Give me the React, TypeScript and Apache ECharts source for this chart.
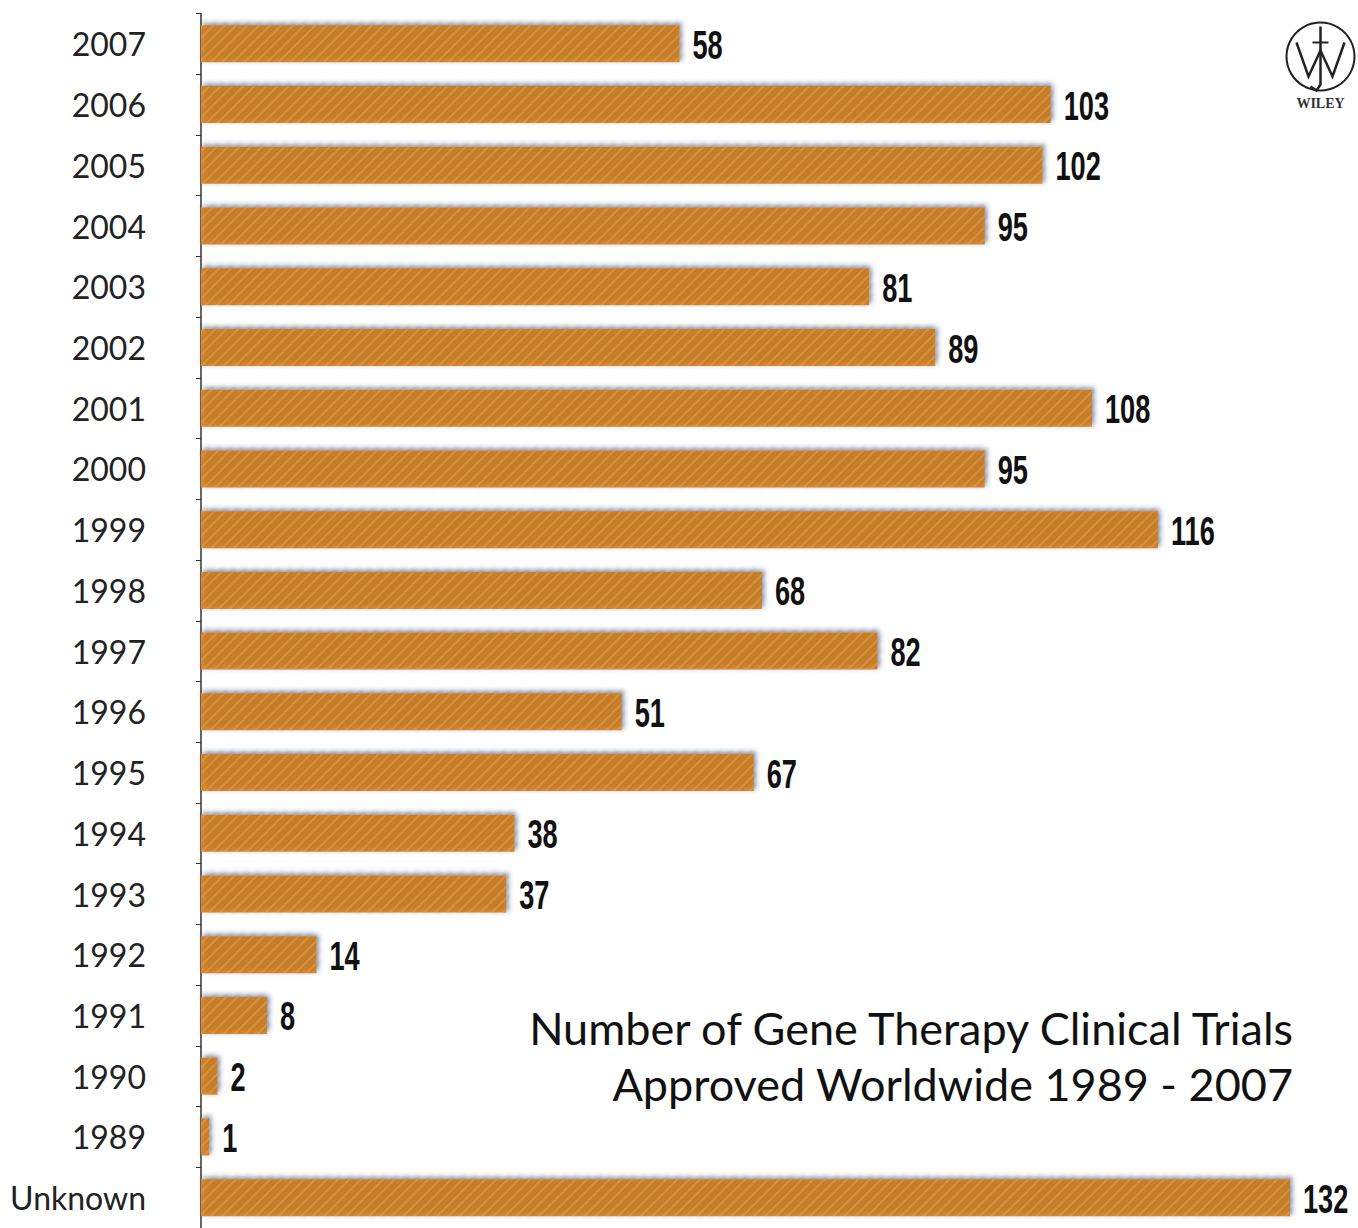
import React, { useEffect, useRef } from "react";
import * as echarts from "echarts";

const categories = ["2007", "2006", "2005", "2004", "2003", "2002", "2001", "2000", "1999", "1998", "1997", "1996", "1995", "1994", "1993", "1992", "1991", "1990", "1989", "Unknown"];
const trials = [58, 103, 102, 95, 81, 89, 108, 95, 116, 68, 82, 51, 67, 38, 37, 14, 8, 2, 1, 132];
const titleLines = ["Number of Gene Therapy Clinical Trials", "Approved Worldwide 1989 - 2007"];

export default function App() {
  const ref = useRef<HTMLDivElement>(null);
  useEffect(() => {
    document.body.style.margin = "0";
    const chart = echarts.init(ref.current!, null, { renderer: "svg" });
    chart.setOption({
      animation: false,
      backgroundColor: "#ffffff",
      grid: { left: 201, right: 2, top: 13.5, bottom: -9.5, containLabel: false },
      xAxis: { type: "value", min: 0, max: 140, show: false },
      yAxis: {
        type: "category",
        data: categories,
        inverse: true,
        axisLine: { show: true, lineStyle: { color: "#333", width: 1.5 } },
        axisTick: { show: true, length: 5, lineStyle: { color: "#333" } },
        axisLabel: { color: "#222", fontFamily: "Lato", fontSize: 32, margin: 55 },
        splitLine: { show: false },
      },
      series: [
        {
          type: "bar",
          data: trials,
          barWidth: 37,
          itemStyle: {
            color: "#d98a2d",
            shadowColor: "rgba(40,60,110,0.5)",
            shadowBlur: 5,
            shadowOffsetX: 2,
            shadowOffsetY: -2,
            decal: {
              symbol: "rect",
              dashArrayX: [1, 0],
              dashArrayY: [2, 6],
              rotation: -Math.PI / 4,
              color: "rgba(230,160,75,0.45)",
            },
          },
        },
        {
          type: "custom",
          clip: false,
          z: 5,
          data: trials.map((v, i) => [v, i]),
          encode: { x: 0, y: 1 },
          renderItem: (params: any, api: any) => {
            const v = api.value(0);
            const p = api.coord([v, api.value(1)]);
            return {
              type: "text",
              x: p[0] + 13,
              y: p[1] + 1,
              scaleX: 0.68,
              style: {
                text: String(v),
                fontFamily: "'Liberation Sans', Arial",
                fontWeight: "bold",
                fontSize: 40,
                fill: "#111",
                align: "left",
                verticalAlign: "middle",
              },
            };
          },
        },
      ],
      graphic: [
        {
          type: "text",
          x: 1293,
          y: 1005,
          style: { text: titleLines[0], fontFamily: "Lato", fontSize: 45, fill: "#111", align: "right" },
        },
        {
          type: "text",
          x: 1293,
          y: 1061,
          style: { text: titleLines[1], fontFamily: "Lato", fontSize: 45, fill: "#111", align: "right" },
        },
        {
          type: "group",
          left: 1284,
          top: 20,
          children: [
            { type: "circle", shape: { cx: 36, cy: 36, r: 34 }, style: { fill: "none", stroke: "#222", lineWidth: 2 } },
            { type: "polyline", shape: { points: [[12, 22], [24, 56], [36, 30], [48, 56], [60, 22]] }, style: { fill: "none", stroke: "#222", lineWidth: 2.5 } },
            { type: "polyline", shape: { points: [[36, 6], [36, 64], [32, 70], [26, 66]] }, style: { fill: "none", stroke: "#222", lineWidth: 2.5 } },
            { type: "line", shape: { x1: 28, y1: 22, x2: 44, y2: 22 }, style: { stroke: "#222", lineWidth: 2 } },
            { type: "text", x: 36, y: 76, style: { text: "WILEY", fontFamily: "Liberation Serif", fontWeight: "bold", fontSize: 14, fill: "#333", align: "center" } },
          ],
        },
      ],
    });
    return () => chart.dispose();
  }, []);
  return <div ref={ref} style={{ width: 1358, height: 1228 }} />;
}
